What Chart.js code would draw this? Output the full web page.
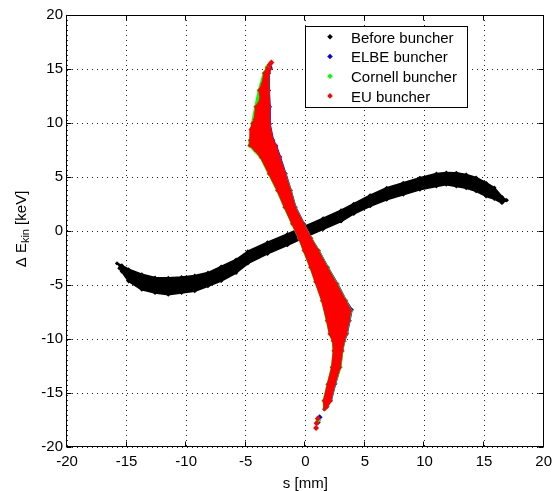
<!DOCTYPE html>
<html><head><meta charset="utf-8">
<script src="https://cdn.jsdelivr.net/npm/chart.js@4.4.0/dist/chart.umd.min.js"></script>
<style>html,body{margin:0;padding:0;background:#fff;}canvas{display:block;}</style>
</head><body>
<canvas id="c" width="558" height="491"></canvas>
<script>
// ---- axes ----
const xTicks = [-20,-15,-10,-5,0,5,10,15,20];
const yTicks = [-20,-15,-10,-5,0,5,10,15,20];
const xTitle = 's [mm]';
const yTitleParts = ['\u0394 E', 'kin', ' [keV]'];
// ---- series ----
const seriesLabels = ['Before buncher','ELBE buncher','Cornell buncher','EU buncher'];
const seriesColors = ['#000000','#0000ff','#00ff00','#ff0000'];

// Before buncher: cloud outline, upper edge and lower edge (s, dE), left to right
const beforeUpper = [[-15.8,-3.0],[-15.4,-3.2],[-14.83,-3.56],[-13.72,-4.03],[-12.61,-4.33],[-11.5,-4.35],[-10.39,-4.28],[-9.28,-4.15],[-8.17,-3.87],[-7.06,-3.3],[-5.81,-2.66],[-4.83,-1.9],[-3.17,-1.05],[-1.5,-0.3],[0,0.45],[1.5,1.17],[3.0,1.9],[4.06,2.5],[5.44,3.3],[6.83,3.98],[8.22,4.45],[9.61,4.92],[11.0,5.3],[11.83,5.4],[12.67,5.38],[13.5,5.22],[14.33,4.93],[15.17,4.45],[15.86,4.0],[16.5,3.15],[16.9,2.85]];
const beforeLower = [[-15.6,-3.45],[-15.4,-3.75],[-14.83,-4.65],[-13.72,-5.42],[-12.61,-5.72],[-11.5,-5.88],[-10.39,-5.72],[-9.28,-5.55],[-8.17,-5.1],[-7.06,-4.62],[-5.81,-3.87],[-4.83,-3.0],[-3.17,-2.1],[-1.5,-1.3],[0,-0.55],[1.5,0.18],[3.0,0.9],[4.06,1.6],[5.44,2.3],[6.83,2.92],[8.22,3.38],[9.61,3.84],[11.0,4.15],[11.83,4.3],[12.67,4.15],[13.5,3.98],[14.33,3.69],[15.17,3.22],[15.86,2.98],[16.5,2.6]];

// ELBE buncher: left and right edges, top to bottom
const elbeLeft = [[-3.15,15.15],[-3.4,14.6],[-3.82,13.0],[-4.1,11.5],[-4.38,9.95],[-4.56,8.4],[-4.6,7.95],[-3.7,6.85],[-3.0,5.3],[-2.3,3.76],[-1.7,2.2],[-1.05,0.67],[-0.47,-0.7],[-0.08,-1.81],[0.47,-3.36],[0.9,-4.7],[1.45,-6.45],[1.86,-8.3],[2.1,-9.5],[2.36,-10.2],[2.42,-11.1],[2.28,-12.6],[1.92,-14.2],[1.6,-15.7],[1.65,-16.45]];
const elbeRight = [[-2.9,15.1],[-3.05,14.6],[-3.05,13.0],[-2.98,11.5],[-2.98,9.9],[-2.7,8.4],[-2.45,7.9],[-2.12,6.85],[-1.65,5.3],[-1.22,3.76],[-0.82,2.2],[-0.12,0.67],[0.5,-0.7],[1.12,-1.81],[1.88,-3.36],[2.7,-4.9],[3.42,-6.45],[3.9,-7.3],[3.72,-8.3],[3.5,-9.5],[3.27,-10.2],[3.1,-11.1],[2.93,-12.6],[2.52,-14.15],[2.15,-15.7],[1.85,-16.25]];
const elbeLoose = [[-3.05,15.25],[1.2,-17.25],[1.05,-17.7]];

// Cornell buncher
const cornellLeft = [[-3.25,15.1],[-3.5,14.6],[-3.92,13.0],[-4.2,11.5],[-4.48,9.95],[-4.66,8.4],[-4.7,7.9],[-3.78,6.85],[-3.08,5.3],[-2.38,3.76],[-1.76,2.2],[-1.12,0.67],[-0.52,-0.7],[-0.14,-1.81],[0.41,-3.36],[0.83,-4.7],[1.4,-6.45],[1.8,-8.3],[2.03,-9.5],[2.3,-10.2],[2.36,-11.1],[2.22,-12.6],[1.86,-14.2],[1.53,-15.7],[1.58,-16.5]];
const cornellRight = [[-2.97,15.0],[-3.12,14.6],[-3.12,13.0],[-3.05,11.5],[-3.05,9.9],[-2.78,8.4],[-2.52,7.9],[-2.2,6.85],[-1.7,5.3],[-1.25,3.76],[-0.86,2.2],[-0.15,0.67],[0.48,-0.7],[1.1,-1.81],[1.85,-3.36],[2.66,-4.9],[3.4,-6.45],[3.84,-7.4],[3.68,-8.3],[3.46,-9.5],[3.25,-10.2],[3.12,-11.1],[2.95,-12.6],[2.48,-14.15],[2.13,-15.7],[1.82,-16.3]];
const cornellLoose = [[-3.15,15.2],[1.1,-17.5]];

// EU buncher
const euLeft = [[-3.2,15.1],[-3.44,14.6],[-3.6,13.6],[-3.86,13.04],[-3.75,12.2],[-4.14,11.49],[-4.25,10.3],[-4.42,9.95],[-4.58,9.4],[-4.61,8.4],[-4.65,7.93],[-4.2,7.5],[-3.72,6.85],[-3.03,5.31],[-2.33,3.76],[-1.72,2.21],[-1.08,0.67],[-0.5,-0.7],[-0.11,-1.81],[0.44,-3.36],[0.86,-4.7],[1.42,-6.45],[1.83,-8.31],[2.06,-9.54],[2.33,-10.16],[2.39,-11.09],[2.25,-12.64],[1.89,-14.18],[1.56,-15.73],[1.6,-16.5]];
const euRight = [[-2.95,15.0],[-3.1,14.6],[-3.1,13.04],[-3.03,11.49],[-3.03,9.95],[-2.75,8.4],[-2.5,7.93],[-2.19,6.85],[-1.72,5.31],[-1.28,3.76],[-0.89,2.21],[-0.17,0.67],[0.45,-0.7],[1.05,-1.81],[1.8,-3.36],[2.6,-4.9],[3.35,-6.45],[3.78,-7.38],[3.64,-8.31],[3.42,-9.54],[3.22,-10.16],[3.08,-11.09],[2.89,-12.64],[2.44,-14.18],[2.11,-15.73],[1.8,-16.3]];
const euLoose = [[-2.85,15.6],[-3.0,15.4],[1.05,-17.35],[0.95,-17.8],[0.9,-18.25]];

// ---- build chart data from the arrays ----
const toPts = arr => arr.map(p => ({x: p[0], y: p[1]}));
const outline = (a, b) => toPts(a.concat(b.slice().reverse()));

const FONT = '"Liberation Sans", Arial, sans-serif';

function bandDataset(label, color, pts, order) {
  return {label, data: pts, showLine: true, fill: 'shape', tension: 0,
    backgroundColor: color, borderColor: color, borderWidth: 2, borderJoinStyle: 'round',
    pointStyle: 'rectRot', pointRadius: 2.2, pointBackgroundColor: color, pointBorderWidth: 0,
    order};
}
function looseDataset(label, color, pts, order) {
  return {label, data: pts, showLine: false, pointStyle: 'rectRot', pointRadius: 3,
    pointBackgroundColor: color, pointBorderColor: color, pointBorderWidth: 0, order};
}

const datasets = [
  bandDataset(seriesLabels[0], seriesColors[0], outline(beforeUpper, beforeLower), 8),
  bandDataset(seriesLabels[1], seriesColors[1], outline(elbeLeft, elbeRight), 6),
  looseDataset(seriesLabels[1], seriesColors[1], toPts(elbeLoose), 5),
  bandDataset(seriesLabels[2], seriesColors[2], outline(cornellLeft, cornellRight), 4),
  looseDataset(seriesLabels[2], seriesColors[2], toPts(cornellLoose), 3),
  bandDataset(seriesLabels[3], seriesColors[3], outline(euLeft, euRight), 2),
  looseDataset(seriesLabels[3], seriesColors[3], toPts(euLoose), 1)
];

function diamond(ctx, x, y, r, color) {
  ctx.fillStyle = color;
  ctx.beginPath();
  ctx.moveTo(x, y - r); ctx.lineTo(x + r, y); ctx.lineTo(x, y + r); ctx.lineTo(x - r, y);
  ctx.closePath(); ctx.fill();
}

const decor = {
  id: 'decor',
  afterDraw(chart) {
    const ctx = chart.ctx, a = chart.chartArea, xs = chart.scales.x, ys = chart.scales.y;
    ctx.save();
    ctx.strokeStyle = '#000'; ctx.lineWidth = 1;
    const L = Math.round(a.left) - 0.5, R = Math.round(a.right) - 0.5;
    const T = Math.round(a.top) + 0.5, B = Math.round(a.bottom) - 0.5;
    ctx.beginPath();
    xTicks.forEach(v => { const p = Math.round(xs.getPixelForValue(v)) - 0.5;
      ctx.moveTo(p, B); ctx.lineTo(p, B - 5); ctx.moveTo(p, T); ctx.lineTo(p, T + 5); });
    yTicks.forEach(v => { const p = Math.round(ys.getPixelForValue(v)) + 0.5;
      ctx.moveTo(L, p); ctx.lineTo(L + 5, p); ctx.moveTo(R, p); ctx.lineTo(R - 5, p); });
    ctx.stroke();
    ctx.strokeRect(L, T, R - L, B - T);

    // legend box
    const bx = 305.5, by = 26.5, bw = 162, bh = 81;
    ctx.fillStyle = '#fff';
    ctx.fillRect(bx, by, bw, bh);
    ctx.strokeRect(bx, by, bw, bh);
    ctx.font = '15px ' + FONT;
    ctx.textAlign = 'left'; ctx.textBaseline = 'alphabetic';
    seriesLabels.forEach((lab, i) => {
      const base = 42.6 + i * 19.7;
      diamond(ctx, 330, base - 5.8, 2.8, seriesColors[i]);
      ctx.fillStyle = '#000';
      ctx.fillText(lab, 351, base);
    });

    // y axis title with subscript
    ctx.save();
    ctx.translate(25.5, 229);
    ctx.rotate(-Math.PI / 2);
    const parts = [[yTitleParts[0], '15px ' + FONT, 0], [yTitleParts[1], '11px ' + FONT, 3.5], [yTitleParts[2], '15px ' + FONT, 0]];
    let total = 0;
    parts.forEach(p => { ctx.font = p[1]; p.w = ctx.measureText(p[0]).width; total += p.w; });
    let x = -total / 2;
    ctx.fillStyle = '#000';
    parts.forEach(p => { ctx.font = p[1]; ctx.fillText(p[0], x, p[2]); x += p.w; });
    ctx.restore();
    ctx.restore();
  }
};

const tickFont = {family: FONT, size: 15};
new Chart(document.getElementById('c'), {
  type: 'scatter',
  data: {datasets},
  options: {
    responsive: false, animation: false, devicePixelRatio: 1,
    layout: {padding: {left: 0, right: 10, top: 15, bottom: 0}},
    plugins: {legend: {display: false}, tooltip: {enabled: false}},
    scales: {
      x: {type: 'linear', min: -20, max: 20,
        afterBuildTicks: s => { s.ticks = xTicks.map(v => ({value: v})); },
        afterFit: s => { s.height = 44; },
        ticks: {font: tickFont, color: '#000', padding: 6, maxRotation: 0, autoSkip: false},
        grid: {color: '#222', lineWidth: 1, drawTicks: false},
        border: {display: false, dash: [1, 4]},
        title: {display: true, text: xTitle, color: '#000', font: {family: FONT, size: 15, lineHeight: 1}, padding: {top: 0, bottom: 0}}
      },
      y: {type: 'linear', min: -20, max: 20,
        afterBuildTicks: s => { s.ticks = yTicks.map(v => ({value: v})); },
        afterFit: s => { s.width = 67; },
        ticks: {font: tickFont, color: '#000', padding: 4, autoSkip: false},
        grid: {color: '#222', lineWidth: 1, drawTicks: false},
        border: {display: false, dash: [1, 4]},
        title: {display: false}
      }
    }
  },
  plugins: [decor]
});
</script>
</body></html>
